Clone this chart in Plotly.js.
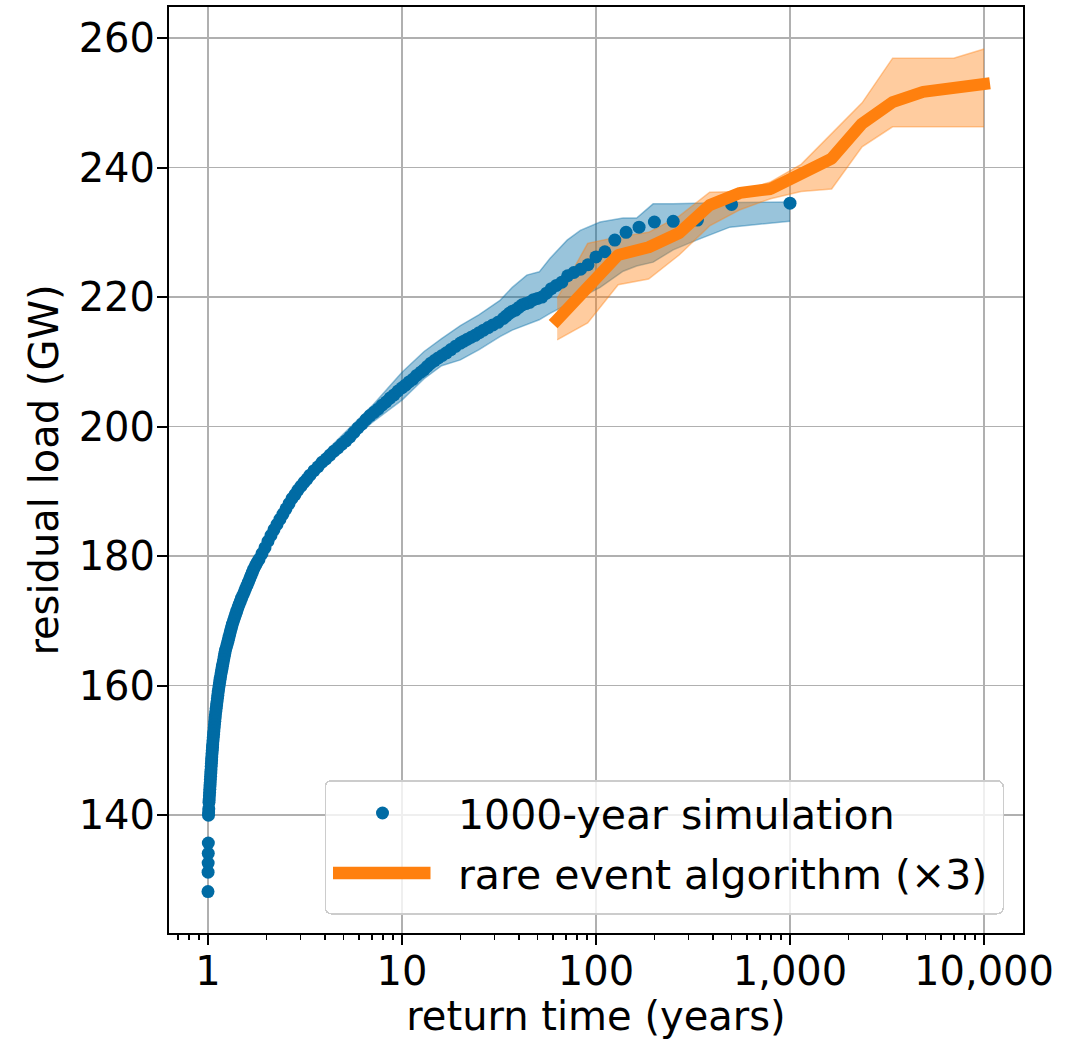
<!DOCTYPE html>
<html>
<head>
<meta charset="utf-8">
<script src="https://cdn.plot.ly/plotly-3.0.1.min.js"></script>
<style>
  html, body { margin: 0; padding: 0; background: #ffffff; }
  #chart { width: 1071px; height: 1039px; }
</style>
</head>
<body>
<div id="chart"></div>
<script>
// ---- 1000-year simulation: return time (years) and residual load (GW) ----
const simReturnTime = [
  // largest events
  1000, 500, 333.3, 250, 200, 166.7, 142.9, 125, 111.1, 100,
  90.91, 83.33, 76.92, 71.43, 66.67, 62.5, 58.82, 55.56, 52.63, 50,
  47.62, 45.45, 43.48, 41.67, 40, 38.46, 37.04, 35.71, 34.48, 33.33,
  31.25, 29.41, 27.78, 26.32, 25, 23.81, 22.73, 21.74, 20.83, 20,
  18.87, 17.86, 16.95, 16.13, 15.38, 14.71, 14.08, 13.51, 12.99, 12.5,
  11.9, 11.36, 10.87, 10.42, 10,
  // 10 -> 1.9 years
  9.536, 9.094, 8.671, 8.269, 7.886, 7.520, 7.172, 6.839, 6.522, 6.220,
  5.931, 5.656, 5.394, 5.144, 4.906, 4.678, 4.461, 4.255, 4.057, 3.869,
  3.690, 3.519, 3.354, 3.238, 3.125, 3.016, 2.909, 2.808, 2.710, 2.616,
  2.523, 2.435, 2.350, 2.268, 2.189, 2.112, 2.038, 1.967, 1.898,
  // 1.9 -> 1 year
  1.8322, 1.7892, 1.7535, 1.7206, 1.6922, 1.6663, 1.6408, 1.6157, 1.5891, 1.5629,
  1.5390, 1.5155, 1.4887, 1.4677, 1.4452, 1.4248, 1.4063, 1.3881, 1.3701, 1.3523,
  1.3363, 1.3221, 1.3081, 1.2957, 1.2835, 1.2714, 1.2579, 1.2445, 1.2313, 1.2211,
  1.2124, 1.2038, 1.1953, 1.1868, 1.1784, 1.1700, 1.1617, 1.1548, 1.1480, 1.1412,
  1.1344, 1.1290, 1.1237, 1.1183, 1.1130, 1.1077, 1.1025, 1.0972, 1.0919, 1.0881,
  1.0840, 1.0802, 1.0763, 1.0725, 1.0687, 1.0649, 1.0611, 1.0574, 1.0549, 1.0523,
  1.0486, 1.0461, 1.0437, 1.0412, 1.0387, 1.0362, 1.0338, 1.0313, 1.0289, 1.0265,
  1.0240, 1.0216, 1.0192, 1.0168, 1.0144, 1.0119, 1.0095, 1.0075, 1.0060,
  1.004, 1.003, 1.002, 1.001, 1.000
];
const simLoad = [
  234.5, 234.3, 231.9, 231.7, 231.6, 230.8, 230.0, 228.8, 227.0, 226.2,
  225.0, 224.3, 223.8, 223.3, 222.3, 221.8, 221.3, 220.6, 220.0, 219.8,
  219.6, 219.2, 219.0, 218.8, 218.4, 218.0, 217.8, 217.5, 217.1, 216.7,
  216.1, 215.7, 215.3, 214.9, 214.5, 214.1, 213.8, 213.5, 213.2, 212.9,
  212.4, 211.9, 211.4, 211.0, 210.6, 210.2, 209.8, 209.3, 208.8, 208.4,
  207.9, 207.3, 206.9, 206.4, 206.0,
  205.5, 204.9, 204.4, 203.8, 203.3, 202.7, 202.2, 201.7, 201.1, 200.4,
  199.8, 199.1, 198.4, 197.8, 197.3, 196.7, 196.2, 195.6, 195.0, 194.5,
  193.8, 193.2, 192.5, 191.9, 191.4, 190.8, 190.2, 189.5, 188.9, 188.1,
  187.3, 186.5, 185.7, 184.9, 184.1, 183.2, 182.3, 181.3, 180.4,
  179.5, 179.0, 178.5, 178.0, 177.5, 177.0, 176.5, 176.0, 175.5, 175.0,
  174.5, 174.0, 173.5, 173.0, 172.5, 172.0, 171.5, 171.0, 170.5, 170.0,
  169.5, 169.0, 168.5, 168.0, 167.5, 167.0, 166.5, 166.0, 165.5, 165.0,
  164.5, 164.0, 163.5, 163.0, 162.5, 162.0, 161.5, 161.0, 160.5, 160.0,
  159.5, 159.0, 158.5, 158.0, 157.5, 157.0, 156.5, 156.0, 155.5, 155.0,
  154.5, 154.0, 153.5, 153.0, 152.5, 152.0, 151.5, 151.0, 150.5, 150.0,
  149.5, 149.0, 148.5, 148.0, 147.5, 147.0, 146.5, 146.0, 145.5, 145.0,
  144.5, 144.0, 143.5, 143.0, 142.5, 142.0, 141.0, 140.5, 140.0,
  135.7, 134.1, 132.6, 131.2, 128.2
];

// ---- simulation confidence band ----
const simBandTime  = [1.05, 1.2, 1.5, 2, 3, 4, 5, 7, 10, 13, 16, 20, 25, 32, 37, 44, 51, 58, 71, 83, 105, 138, 162, 197, 250, 330, 490, 1000];
const simBandLower = [147.8, 160.9, 172.3, 181.2, 189.8, 194.2, 196.8, 200.6, 204.1, 207.4, 209.4, 210.3, 211.9, 213.9, 214.9, 215.7, 216.5, 217.5, 218.8, 219.9, 221.5, 224.0, 224.8, 225.4, 227.3, 228.8, 230.8, 231.7];
const simBandUpper = [149.0, 162.3, 173.6, 182.6, 191.4, 196.0, 198.9, 203.2, 208.4, 211.6, 213.6, 215.6, 217.3, 219.5, 221.5, 223.4, 223.9, 226.0, 228.8, 230.3, 231.6, 232.2, 232.2, 234.4, 234.4, 234.5, 234.6, 234.7];

// ---- rare event algorithm (x3) ----
const reaReturnTime = [63.1, 90.6, 130.1, 186.8, 268.3, 385.3, 553.4, 794.6, 1141, 1639, 2353, 3380, 4853, 6970, 10000];
const reaLoad       = [216.5, 221.5, 226.5, 227.7, 229.9, 234.2, 236.1, 236.7, 239.3, 241.4, 246.8, 250.1, 251.7, 252.2, 252.9];
const reaLower      = [213.4, 216.0, 221.9, 222.8, 226.5, 231.0, 233.5, 235.2, 236.3, 236.7, 243.2, 246.3, 246.3, 246.3, 246.3];
const reaUpper      = [219.8, 228.3, 229.3, 230.0, 232.5, 236.2, 236.3, 237.8, 240.5, 245.2, 250.0, 256.9, 256.9, 256.9, 258.3];

// ---- axis ticks ----
const xTickVals = [1, 10, 100, 1000, 10000];
const xTickText = ["1", "10", "100", "1,000", "10,000"];
const yTickVals = [140, 160, 180, 200, 220, 240, 260];

const BLUE = '#006BA4';
const ORANGE = '#FF800E';
const BLUE_FILL = 'rgba(0,107,164,0.4)';
const ORANGE_FILL = 'rgba(255,128,14,0.4)';
const FONT = 'DejaVu Sans, sans-serif';

const traces = [
  { x: simBandTime, y: simBandLower, type: 'scatter', mode: 'lines',
    line: { color: BLUE_FILL, width: 1.5 }, showlegend: false, hoverinfo: 'skip' },
  { x: simBandTime, y: simBandUpper, type: 'scatter', mode: 'lines', fill: 'tonexty',
    fillcolor: BLUE_FILL, line: { color: BLUE_FILL, width: 1.5 }, showlegend: false, hoverinfo: 'skip' },
  { x: reaReturnTime, y: reaLower, type: 'scatter', mode: 'lines',
    line: { color: ORANGE_FILL, width: 1.5 }, showlegend: false, hoverinfo: 'skip' },
  { x: reaReturnTime, y: reaUpper, type: 'scatter', mode: 'lines', fill: 'tonexty',
    fillcolor: ORANGE_FILL, line: { color: ORANGE_FILL, width: 1.5 }, showlegend: false, hoverinfo: 'skip' },
  { x: simReturnTime, y: simLoad, type: 'scatter', mode: 'markers', name: '1000-year simulation',
    marker: { color: BLUE, size: 13, line: { width: 0 } } },
  { x: reaReturnTime, y: reaLoad, type: 'scatter', mode: 'lines', name: 'rare event algorithm (×3)',
    line: { color: ORANGE, width: 12 } }
];

const layout = {
  width: 1071, height: 1039,
  margin: { l: 169, r: 48, t: 7, b: 106 },
  paper_bgcolor: '#ffffff', plot_bgcolor: '#ffffff',
  font: { family: FONT, size: 40, color: '#000000' },
  showlegend: true,
  xaxis: {
    type: 'log', range: [-0.201, 4.201],
    tickmode: 'array', tickvals: xTickVals, ticktext: xTickText,
    ticks: 'outside', ticklen: 10, tickwidth: 2, tickcolor: '#000000',
    ticklabelstandoff: -8,
    showline: true, linecolor: '#000000', linewidth: 2, mirror: true,
    showgrid: true, gridcolor: '#b0b0b0', gridwidth: 1.6, zeroline: false,
    tickfont: { family: FONT, size: 40 },
    minor: { ticks: 'outside', ticklen: 5, tickwidth: 1.5, tickcolor: '#000000', dtick: 'D1', showgrid: false },
    title: { text: 'return time (years)', font: { family: FONT, size: 40 }, standoff: 16 }
  },
  yaxis: {
    range: [121.8, 264.8],
    tickmode: 'array', tickvals: yTickVals,
    ticks: 'outside', ticklen: 10, tickwidth: 2, tickcolor: '#000000',
    ticklabelstandoff: -6,
    showline: true, linecolor: '#000000', linewidth: 2, mirror: true,
    showgrid: true, gridcolor: '#b0b0b0', gridwidth: 1.6, zeroline: false,
    tickfont: { family: FONT, size: 40 },
    title: { text: 'residual load (GW)', font: { family: FONT, size: 40 }, standoff: 8 }
  },
  legend: {
    x: 0.9766, xanchor: 'right', y: 0.0216, yanchor: 'bottom',
    traceorder: 'normal',
    bgcolor: 'rgba(255,255,255,0.8)', bordercolor: '#cccccc', borderwidth: 1.5,
    font: { family: FONT, size: 41, color: '#000000' },
    itemwidth: 100
  }
};

function shiftBy(el, dx, dy) {
  const prev = el.getAttribute('transform') || '';
  el.setAttribute('transform', (prev + ' translate(' + dx + ',' + dy + ')').trim());
}

const gd = document.getElementById('chart');
Plotly.newPlot(gd, traces, layout, { staticPlot: true, displayModeBar: false }).then(function () {
  // orange line: projecting caps and round joins like the original
  const lines = gd.querySelectorAll('.scatterlayer .trace');
  const last = lines[lines.length - 1];
  if (last) {
    last.querySelectorAll('path.js-line').forEach(function (p) {
      p.style.strokeLinecap = 'square';
      p.style.strokeLinejoin = 'round';
    });
  }
  // legend box placement and item spacing
  const legend = gd.querySelector('g.legend');
  if (!legend) return;
  const boxLeft = 324.5, boxTop = 780, boxW = 678, boxH = 133;
  legend.setAttribute('transform', 'translate(' + boxLeft + ',' + boxTop + ')');
  const bg = legend.querySelector('rect.bg');
  if (bg) { bg.setAttribute('width', boxW); bg.setAttribute('height', boxH); bg.setAttribute('rx', 6); bg.setAttribute('ry', 6); }
  const sb = legend.querySelector('g.scrollbox');
  if (sb) { sb.removeAttribute('clip-path'); sb.setAttribute('transform', 'translate(0,0)'); }
  const rows = [33, 93];
  const items = legend.querySelectorAll('g.traces');
  items.forEach(function (g, i) {
    g.setAttribute('transform', 'translate(0,' + rows[i] + ')');
  });
  items.forEach(function (g) {
    const t = g.querySelector('text.legendtext');
    if (t) {
      const r = t.getBoundingClientRect();
      t.setAttribute('x', (+t.getAttribute('x') || 0) + (458 - r.left));
    }
    const lp = g.querySelector('.legendlines path');
    if (lp) {
      lp.setAttribute('d', 'M0,0h97.5');
      lp.style.strokeWidth = '12.5px';
      lp.style.strokeLinecap = 'butt';
      const r = lp.getBoundingClientRect();
      shiftBy(lp, 333 - r.left, 0);
    }
    const pp = g.querySelector('.legendpoints path');
    if (pp) {
      const r = pp.getBoundingClientRect();
      shiftBy(pp, 382.5 - (r.left + r.width / 2), 0);
    }
  });
});
</script>
</body>
</html>
